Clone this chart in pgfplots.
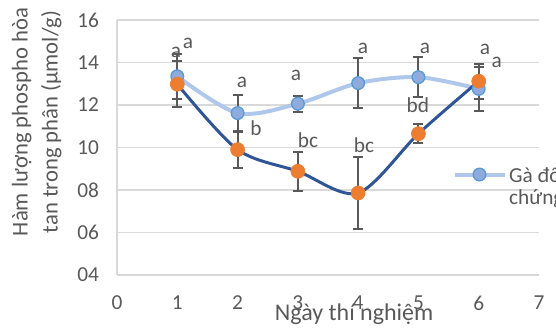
\documentclass[border=0pt]{standalone}
\usepackage{fontspec}
\setmainfont{Carlito}
\usepackage{pgfplots}
\pgfplotsset{compat=1.18}
\definecolor{txt}{HTML}{595959}
\definecolor{gridc}{HTML}{D9D9D9}
\definecolor{lblue}{HTML}{AFC7EA}
\definecolor{mblue}{HTML}{8FAADC}
\definecolor{mbord}{HTML}{5B9BD5}
\definecolor{dblue}{HTML}{2F5597}
\definecolor{orng}{HTML}{ED7D31}
\pgfplotstableread{
x y e
1 13.35 1.05
2 11.62 0.83
3 12.06 0.38
4 13.03 1.17
5 13.31 0.95
6 12.76 1.05
}\control
\pgfplotstableread{
x y e
1 12.98 1.08
2 9.90 0.85
3 8.88 0.93
4 7.86 1.68
5 10.65 0.45
6 13.12 0.82
}\treat
\pgfplotstableread{
x y l
0.979 14.49 a
1.178 14.92 a
2.073 13.08 a
2.969 13.41 a
4.080 14.68 a
5.109 14.68 a
6.104 14.64 a
6.300 14.02 a
2.306 10.92 b
3.168 10.35 bc
4.097 10.12 bc
4.990 12.00 bd
}\labels
\begin{document}
\begin{tikzpicture}
\begin{axis}[
  at={(87.75pt,41.25pt)}, anchor=south west,
  scale only axis, width=316.5pt, height=191.25pt,
  xmin=0, xmax=7, ymin=4, ymax=16,
  xtick={0,1,...,7}, ytick={4,6,...,16},
  yticklabels={04,06,08,10,12,14,16},
  ymajorgrids, grid style={gridc, line width=1pt},
  axis x line*=bottom, axis y line*=left,
  axis line style={gridc, line width=1pt, -},
  major tick length=0pt,
  tick label style={font=\fontsize{16}{19}\selectfont, text=txt},
  xticklabel style={yshift=-12pt},
  yticklabel style={xshift=-10pt},
  /pgf/number format/assume math mode=true,
  xlabel={Ngày thí nghiệm},
  xlabel style={at={(axis description cs:0.562,-0.152)}, anchor=center, font=\fontsize{18}{21}\selectfont, text=txt},
  ylabel={Hàm lượng phospho hòa\\tan trong phân (µmol/g)},
  ylabel style={at={(axis description cs:-0.19,0.6)}, anchor=center, align=center, font=\fontsize{17}{22.5}\selectfont, text=txt},
  legend style={draw=none, fill=none, at={(rel axis cs:0.785,0.347)}, anchor=west, font=\fontsize{16}{17}\selectfont, text=txt, align=left},
  legend image code/.code={\draw[#1, mark repeat=2, mark phase=2] plot coordinates {(0pt,9pt) (18.75pt,9pt) (37.5pt,9pt)};},
  clip=false,
]
\addplot[lblue, line width=3pt, smooth, mark=*, mark size=4.75pt,
  mark options={fill=mblue, draw=mbord, line width=1pt},
  error bars/.cd, y dir=both, y explicit,
  error bar style={txt, line width=1.5pt},
  error mark options={rotate=90, mark size=3.75pt, line width=1.5pt, txt}]
  table[x=x, y=y, y error=e]{\control};
\addlegendentry{Gà đối\\chứng}
\addplot[dblue, line width=2.25pt, smooth, mark=*, mark size=5.25pt,
  mark options={fill=orng, draw=orng, line width=0.5pt},
  error bars/.cd, y dir=both, y explicit,
  error bar style={txt, line width=1.5pt},
  error mark options={rotate=90, mark size=3.75pt, line width=1.5pt, txt}]
  table[x=x, y=y, y error=e]{\treat};
\addplot[draw=none, mark=none, nodes near coords, point meta=explicit symbolic,
  every node near coord/.append style={anchor=center, font=\fontsize{16}{18}\selectfont, text=txt}]
  table[x=x, y=y, meta=l]{\labels};
\end{axis}
\pgfresetboundingbox
\path[use as bounding box] (0,0) rectangle (417pt,247.5pt);
\end{tikzpicture}
\end{document}
